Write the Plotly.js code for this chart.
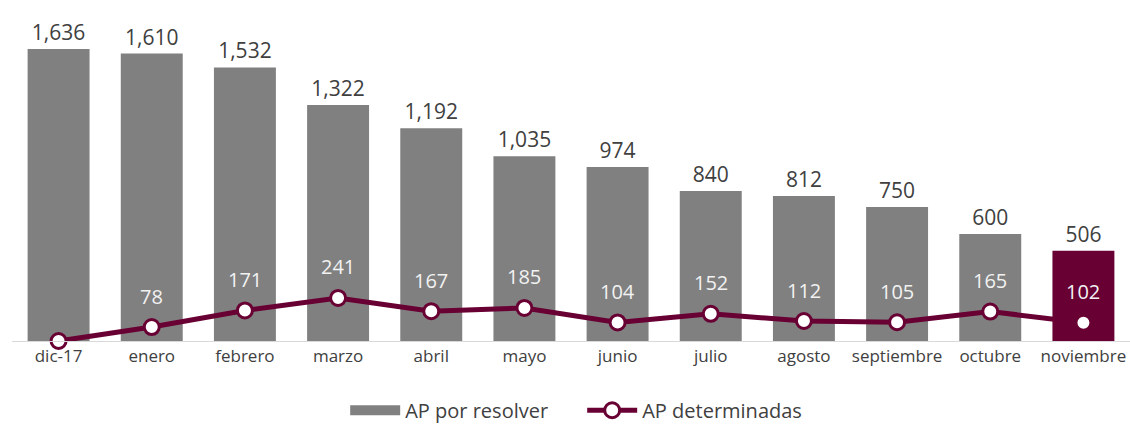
<!DOCTYPE html>
<html>
<head>
<meta charset="utf-8">
<script src="https://cdn.plot.ly/plotly-3.0.1.min.js"></script>
<style>html,body{margin:0;padding:0;background:#fff}#chart{width:1130px;height:424px}</style>
</head>
<body>
<div id="chart"></div>
<script>
const categories = ["dic-17","enero","febrero","marzo","abril","mayo","junio","julio","agosto","septiembre","octubre","noviembre"];
const porResolver = [1636,1610,1532,1322,1192,1035,974,840,812,750,600,506];
const determinadas = [0,78,171,241,167,185,104,152,112,105,165,102];

const gray = "#808080";
const maroon = "#680033";
const fontFam = "Open Sans, Lato, sans-serif";
const barColors = categories.map((c, i) => i === categories.length - 1 ? maroon : gray);

const traces = [
  {
    type: "bar",
    name: "AP por resolver",
    x: categories,
    y: porResolver,
    marker: {color: barColors},
    texttemplate: "%{y:,}",
    textposition: "outside",
    textfont: {family: fontFam, size: 21, color: "#404040"},
    cliponaxis: false,
    showlegend: false,
    hoverinfo: "skip"
  },
  {
    type: "scatter",
    mode: "lines",
    name: "AP por resolver",
    x: [null],
    y: [null],
    line: {color: gray, width: 14},
    showlegend: true,
    hoverinfo: "skip"
  },
  {
    type: "scatter",
    mode: "lines+markers",
    name: "AP determinadas",
    x: categories,
    y: determinadas,
    line: {color: maroon, width: 5},
    marker: {color: "#ffffff", size: 15, line: {color: maroon, width: 3}},
    cliponaxis: false,
    hoverinfo: "skip"
  }
];

const annotations = categories.map((c, i) => ({
  x: c, y: determinadas[i], xref: "x", yref: "y",
  text: String(determinadas[i]),
  showarrow: false, yshift: 31,
  font: {family: fontFam, size: 20, color: "#f2f2f2"}
})).filter((a, i) => determinadas[i] > 0);

const layout = {
  width: 1130, height: 424,
  margin: {l: 12, r: 0, t: 20, b: 83, autoexpand: false},
  paper_bgcolor: "#ffffff", plot_bgcolor: "#ffffff",
  bargap: 0.335,
  showlegend: true,
  legend: {orientation: "h", x: 0.51, xanchor: "center", y: -0.155, yanchor: "top",
           font: {family: fontFam, size: 20, color: "#404040"},
           itemwidth: 50, entrywidth: 172, entrywidthmode: "pixels", tracegroupgap: 0},
  xaxis: {range: [-0.5, categories.length - 0.5], showline: true, linecolor: "#d9d9d9", linewidth: 1, ticks: "",
          tickfont: {family: fontFam, size: 17, color: "#404040"},
          showgrid: false, zeroline: false, fixedrange: true, automargin: false},
  yaxis: {range: [0, 1798], visible: false, showgrid: false, zeroline: false, fixedrange: true, automargin: false},
  annotations: annotations
};

Plotly.newPlot("chart", traces, layout, {displayModeBar: false, staticPlot: true});
</script>
</body>
</html>
